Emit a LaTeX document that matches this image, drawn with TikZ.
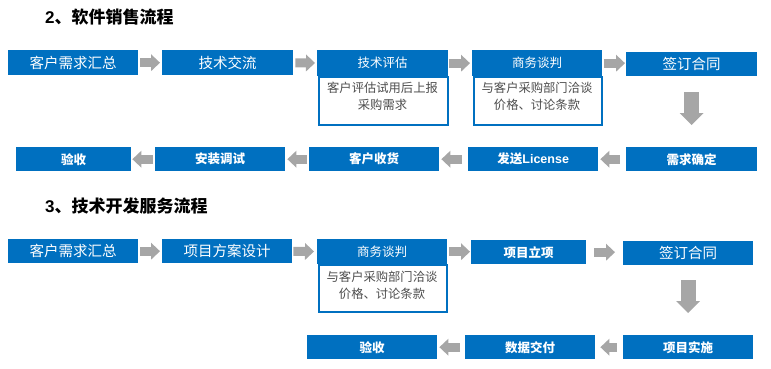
\documentclass[tikz,border=0pt]{standalone}
\usepackage{fontspec}
\setmainfont{Noto Sans CJK SC}
\newfontfamily\latf{Liberation Sans}
\usetikzlibrary{arrows.meta}
\definecolor{boxblue}{HTML}{0070C0}
\definecolor{arrgray}{HTML}{A6A6A6}
\definecolor{bodytext}{HTML}{4D4D4D}
\tikzset{
  box/.style={fill=boxblue, text=white, inner sep=0pt, anchor=north west, minimum height=24pt, minimum width=130pt},
  bigtxt/.style={font=\fontsize{14.5}{17}\selectfont},
  smalltxt/.style={font=\fontsize{12.5}{15}\selectfont},
  boldtxt/.style={font=\fontsize{12.5}{15}\selectfont\bfseries},
  bodybox/.style={fill=white, draw=boxblue, line width=2pt, anchor=north west, inner sep=0pt},
  bodytxt/.style={text=bodytext, align=center, font=\fontsize{12.3}{17}\selectfont},
  harrow/.style={draw=arrgray, line width=9pt, -{Triangle[length=9pt,width=17pt,line width=0pt]}},
  varrow/.style={draw=arrgray, line width=15pt, -{Triangle[length=12pt,width=24pt,line width=0pt]}},
  title/.style={font=\fontsize{17}{20}\selectfont\bfseries, anchor=west, inner sep=0pt}
}
\begin{document}
\begin{tikzpicture}[x=1pt,y=-1pt]
\useasboundingbox (0,0) rectangle (771,369);
% ---------- section 2 ----------
\node[title] (T2) at (45,17) {{\latf\bfseries 2}、软件销售流程};
\node[box,bigtxt,minimum height=25pt] (A1) at (8,50) {客户需求汇总};
\node[box,bigtxt,minimum height=25pt,minimum width=131pt] (A2) at (162,50) {技术交流};
\node[box,smalltxt,minimum height=26pt,minimum width=131pt] (A3h) at (317,50) {技术评估};
\node[bodybox,minimum width=129pt,minimum height=48pt] (A3b) at (318,76) {};
\node[bodytxt] (A3t) at (382.5,96) {客户评估试用后上报\\采购需求};
\node[box,smalltxt,minimum height=26pt] (A4h) at (472,50) {商务谈判};
\node[bodybox,minimum width=128pt,minimum height=48pt] (A4b) at (473,76) {};
\node[bodytxt] (A4t) at (537,96) {与客户采购部门洽谈\\价格、讨论条款};
\node[box,bigtxt,minimum width=131pt] (A5) at (626,52) {签订合同};
\node[box,boldtxt,minimum width=131pt] (B1) at (626,147) {需求确定};
\node[box,boldtxt] (B2) at (468,147) {发送{\latf\bfseries License}};
\node[box,boldtxt] (B3) at (309,147) {客户收货};
\node[box,boldtxt] (B4) at (155,147) {安装调试};
\node[box,boldtxt,minimum width=115pt] (B5) at (16,147) {验收};
\draw[harrow,shorten <=2pt,shorten >=2pt] (A1) -- (A2);
\draw[harrow,shorten <=2pt,shorten >=2pt] (A2) -- (A3h);
\draw[harrow,shorten <=1pt,shorten >=2pt] (A3h) -- (A4h);
\draw[harrow,shorten <=2pt,shorten >=1pt] (A4h) -- (A4h -| A5.west);
\draw[varrow,shorten <=16pt,shorten >=22pt] (A5) -- (B1);
\draw[harrow,shorten <=6pt,shorten >=2pt] (B1) -- (B2);
\draw[harrow,shorten <=6pt,shorten >=2pt] (B2) -- (B3);
\draw[harrow,shorten <=2pt,shorten >=2pt] (B3) -- (B4);
\draw[harrow,shorten <=2pt,shorten >=1pt] (B4) -- (B5);
% ---------- section 3 ----------
\node[title] (T3) at (45,206) {{\latf\bfseries 3}、技术开发服务流程};
\node[box,bigtxt] (C1) at (8,239) {客户需求汇总};
\node[box,bigtxt] (C2) at (162,239) {项目方案设计};
\node[box,smalltxt,minimum height=25pt] (C3h) at (317,239) {商务谈判};
\node[bodybox,minimum width=128pt,minimum height=47pt] (C3b) at (318,264) {};
\node[bodytxt] (C3t) at (382,285) {与客户采购部门洽谈\\价格、讨论条款};
\node[box,boldtxt,minimum width=115pt] (C4) at (471,240) {项目立项};
\node[box,bigtxt] (C5) at (623,241) {签订合同};
\node[box,boldtxt] (D1) at (623,335) {项目实施};
\node[box,boldtxt] (D2) at (465,335) {数据交付};
\node[box,boldtxt] (D3) at (307,335) {验收};
\draw[harrow,shorten <=2pt,shorten >=2pt] (C1) -- (C2);
\draw[harrow,shorten <=1pt,shorten >=3pt] (C2) -- (C3h);
\draw[harrow,shorten <=2pt,shorten >=1pt] (C3h) -- (C3h -| C4.west);
\draw[harrow,shorten <=8pt,shorten >=8pt] (C4) -- (C4 -| C5.west);
\draw[varrow,shorten <=15pt,shorten >=22pt] (C5) -- (D1);
\draw[harrow,shorten <=6pt,shorten >=5pt] (D1) -- (D2);
\draw[harrow,shorten <=5pt,shorten >=2pt] (D2) -- (D3);
\end{tikzpicture}
\end{document}
